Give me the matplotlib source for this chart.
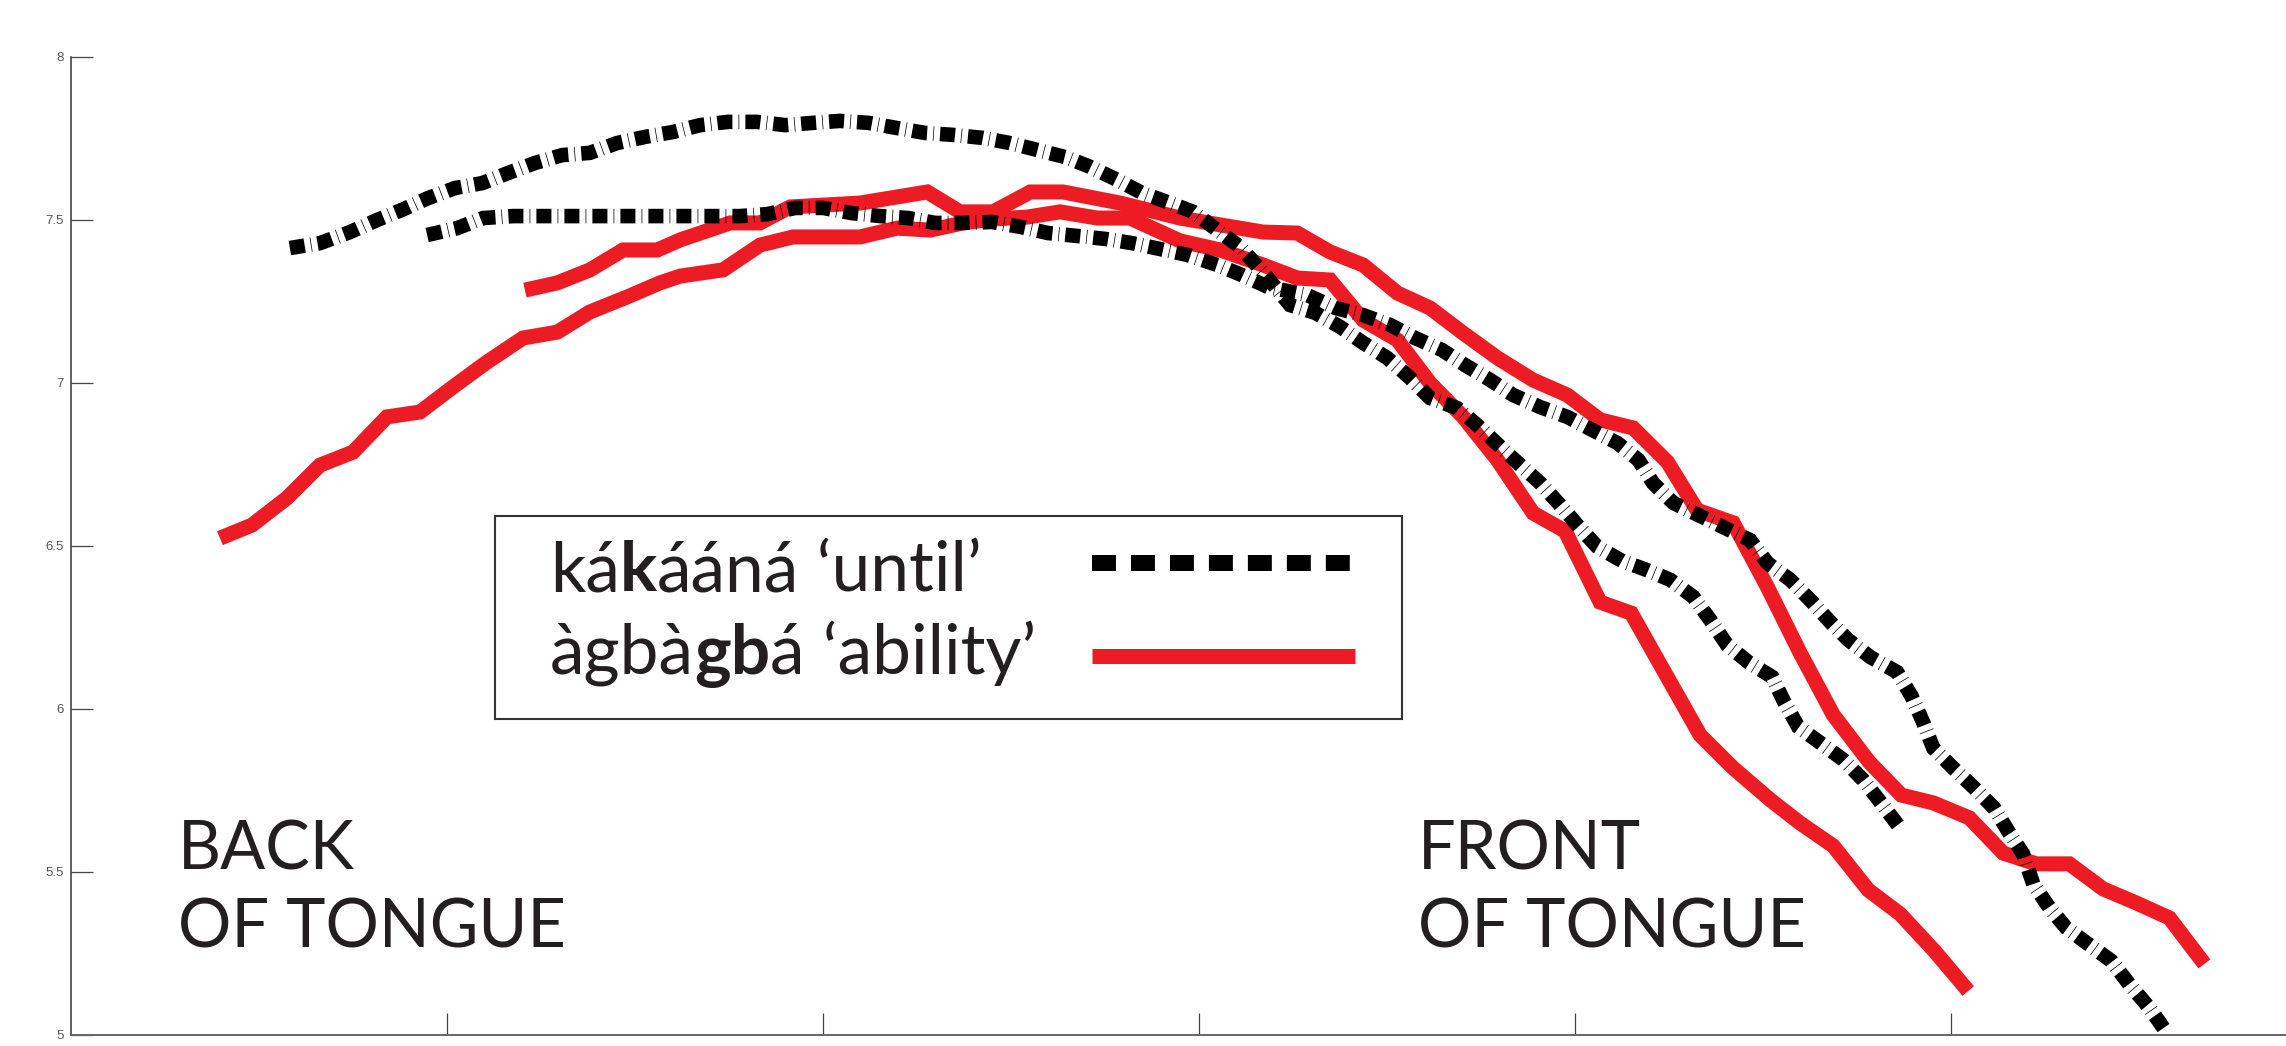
import matplotlib
matplotlib.use("Agg")
import matplotlib.pyplot as plt
from matplotlib.lines import Line2D
from matplotlib.patches import Rectangle

# ---------------- data (tongue contours) ----------------
# kákáánáʼ 'until' – repetition 1 (upper black dotted)
kak1_x = [5.82, 6.62, 7.42, 8.14, 8.80, 9.49, 10.21, 10.93, 11.62, 12.34, 13.06, 13.80, 14.52,
          15.27, 16.01, 16.73, 17.47, 18.24, 18.99, 19.73, 20.45, 21.20, 21.97, 22.71, 23.46,
          24.23, 24.97, 25.69, 26.44, 27.10, 27.82, 28.48, 29.23, 29.84, 30.48, 31.09, 31.76,
          32.42, 33.09, 33.75, 34.36, 35.00, 35.61, 36.14, 36.86, 37.39, 38.01, 38.54, 39.07,
          39.55, 40.08, 40.59, 41.25, 41.91, 42.53, 43.14, 43.59, 44.04, 44.60, 45.24, 45.53,
          45.93, 46.52, 47.13, 47.66, 48.11, 48.64]
kak1_y = [7.414, 7.429, 7.463, 7.500, 7.531, 7.567, 7.598, 7.613, 7.644, 7.675, 7.699, 7.706, 7.736,
          7.755, 7.770, 7.791, 7.801, 7.801, 7.791, 7.798, 7.804, 7.798, 7.782, 7.767, 7.761,
          7.752, 7.736, 7.715, 7.693, 7.663, 7.623, 7.583, 7.552, 7.525, 7.469, 7.417, 7.331,
          7.239, 7.215, 7.172, 7.123, 7.077, 7.015, 6.954, 6.923, 6.871, 6.804, 6.748, 6.693,
          6.632, 6.561, 6.497, 6.454, 6.426, 6.396, 6.344, 6.273, 6.196, 6.144, 6.098, 6.028,
          5.945, 5.896, 5.844, 5.782, 5.715, 5.635]

# kákáánáʼ 'until' – repetition 2 (lower black dotted)
kak2_x = [9.47, 10.27, 10.96, 11.76, 12.74, 14.07, 15.40, 16.20, 16.99, 17.79, 18.51, 19.26, 20.00,
          20.77, 21.52, 22.26, 22.98, 23.72, 24.49, 25.24, 25.98, 26.76, 27.50, 28.22, 28.96,
          29.68, 30.48, 31.14, 31.84, 32.87, 33.62, 34.34, 35.08, 35.74, 36.46, 37.07, 37.74,
          38.35, 39.07, 39.79, 40.45, 41.12, 41.68, 42.07, 42.61, 44.65, 45.11, 45.72, 46.25,
          46.78, 47.26, 47.85, 48.56, 48.94, 49.26, 49.52, 50.05, 50.61, 51.14, 51.54, 51.91,
          52.18, 52.61, 53.06, 53.64, 54.26, 54.73, 55.27, 55.72]
kak2_y = [7.454, 7.475, 7.506, 7.512, 7.512, 7.512, 7.512, 7.512, 7.512, 7.512, 7.518, 7.537, 7.537,
          7.521, 7.512, 7.506, 7.491, 7.491, 7.494, 7.479, 7.460, 7.451, 7.442, 7.429, 7.411,
          7.393, 7.362, 7.331, 7.294, 7.270, 7.230, 7.209, 7.178, 7.138, 7.101, 7.055, 7.009,
          6.963, 6.926, 6.896, 6.856, 6.816, 6.764, 6.693, 6.632, 6.518, 6.448, 6.396, 6.334,
          6.267, 6.212, 6.159, 6.113, 6.040, 5.957, 5.880, 5.819, 5.758, 5.696, 5.620, 5.555,
          5.463, 5.390, 5.328, 5.279, 5.227, 5.156, 5.083, 5.009]

# àgbàgbá 'ability' – repetition 1 (red, starts far back)
agb1_x = [3.96, 4.81, 5.74, 6.62, 7.50, 8.40, 9.28, 10.16, 11.06, 12.02, 12.93, 13.80, 14.79,
          15.66, 16.20, 17.34, 18.32, 19.20, 20.98, 21.97, 22.85, 23.72, 24.52, 25.43, 26.30,
          27.29, 28.16, 29.49, 30.56, 31.70, 32.61, 33.48, 34.36, 35.27, 36.14, 37.02, 37.93,
          38.88, 39.73, 40.66, 41.49, 42.34, 43.32, 44.20, 45.19, 45.98, 46.86, 47.79, 48.64,
          49.55, 50.45]
agb1_y = [6.524, 6.564, 6.647, 6.748, 6.788, 6.896, 6.911, 6.988, 7.064, 7.138, 7.156, 7.218, 7.264,
          7.307, 7.328, 7.347, 7.423, 7.448, 7.448, 7.475, 7.469, 7.491, 7.503, 7.509, 7.525,
          7.506, 7.506, 7.436, 7.408, 7.362, 7.322, 7.316, 7.193, 7.132, 7.000, 6.896, 6.764,
          6.601, 6.546, 6.328, 6.294, 6.120, 5.920, 5.819, 5.721, 5.650, 5.580, 5.445, 5.371,
          5.258, 5.135]

# àgbàgbá 'ability' – repetition 2 (red, reaches furthest front)
agb2_x = [12.07, 12.93, 13.80, 14.68, 15.59, 16.20, 17.53, 18.32, 19.12, 20.98, 22.77, 23.64, 24.52,
          25.51, 26.38, 27.90, 29.49, 30.56, 31.70, 32.61, 33.48, 34.36, 35.27, 36.14, 37.02,
          37.93, 38.88, 39.79, 40.66, 41.54, 42.45, 43.24, 44.20, 45.11, 45.98, 46.86, 47.82,
          48.67, 49.52, 50.48, 51.38, 52.26, 53.14, 54.04, 54.92, 55.80, 56.73]
agb2_y = [7.285, 7.307, 7.347, 7.408, 7.408, 7.439, 7.491, 7.491, 7.540, 7.552, 7.586, 7.525, 7.525,
          7.586, 7.586, 7.552, 7.506, 7.485, 7.463, 7.460, 7.402, 7.362, 7.276, 7.230, 7.153,
          7.077, 7.009, 6.963, 6.887, 6.862, 6.758, 6.610, 6.571, 6.374, 6.172, 5.982, 5.837,
          5.736, 5.712, 5.666, 5.558, 5.525, 5.525, 5.448, 5.405, 5.359, 5.218]

y_ticks = [5, 5.5, 6, 6.5, 7, 7.5, 8]
y_tick_labels = ["5", "5.5", "6", "6.5", "7", "7.5", "8"]
x_ticks = [10, 20, 30, 40, 50]

legend_word1 = [("ká", "normal"), ("k", "bold"), ("ááná", "normal"), (" \u2018until\u2019", "normal")]
legend_word2 = [("àgbà", "normal"), ("gb", "bold"), ("á", "normal"), (" \u2018ability\u2019", "normal")]
label_back = ["BACK", "OF TONGUE"]
label_front = ["FRONT", "OF TONGUE"]

# ---------------- figure ----------------
W, H = 2286, 1046
fig = plt.figure(figsize=(W / 100, H / 100), dpi=100)
fig.patch.set_facecolor("white")
ax = fig.add_axes([71 / W, 11 / H, (W - 71) / W, 978 / H])
ax.set_xlim(0, 58.9)
ax.set_ylim(5, 8)

RED = "#ED1C24"
TXT = "#231F20"
dot_style = (0, (1.03, 0.42, 0.05, 0.42))

for xs, ys in [(agb1_x, agb1_y), (agb2_x, agb2_y)]:
    ax.plot(xs, ys, color=RED, lw=10.8, solid_capstyle="butt", solid_joinstyle="miter",
            zorder=2, clip_on=False)
for xs, ys in [(kak1_x, kak1_y), (kak2_x, kak2_y)]:
    ax.plot(xs, ys, color="black", lw=10.5, linestyle=dot_style, dash_capstyle="butt",
            dash_joinstyle="miter", zorder=3, clip_on=False)

for s in ["top", "right"]:
    ax.spines[s].set_visible(False)
ax.spines["left"].set_bounds(5, 8)
ax.spines["left"].set_color("#444444")
ax.spines["left"].set_linewidth(1.2)
ax.spines["bottom"].set_color("#666666")
ax.spines["bottom"].set_linewidth(1.4)

ax.set_xticks(x_ticks)
ax.set_xticklabels([])
ax.set_yticks(y_ticks)
ax.set_yticklabels(y_tick_labels, fontsize=9.5, color="#555555", family="Liberation Sans")
ax.tick_params(axis="both", direction="in", length=15.5, width=0.9, color="#444444")
ax.tick_params(axis="y", pad=5)

# ---------------- legend (drawn by hand) ----------------
fig.add_artist(Rectangle((495 / W, 327 / H), 907 / W, 203 / H, transform=fig.transFigure,
                         fill=False, ec="#333333", lw=1.5))
fig.add_artist(Line2D([1092 / W, 1353 / W], [483 / H, 483 / H], transform=fig.transFigure,
                      color="black", lw=11.5, linestyle=(0, (1.5, 0.94)), dash_capstyle="butt"))
fig.add_artist(Line2D([1092 / W, 1355 / W], [390 / H, 390 / H], transform=fig.transFigure,
                      color=RED, lw=10.8, solid_capstyle="butt"))

renderer = fig.canvas.get_renderer()


def seg_text(x_px, base_from_top, parts, size):
    x = x_px
    for s, w in parts:
        t = fig.text(x / W, 1 - base_from_top / H, s, fontsize=size, fontweight=w,
                     family="Lato", va="baseline", ha="left", color=TXT)
        x = t.get_window_extent(renderer).x1


seg_text(550, 591, legend_word1, 50)
seg_text(550, 674, legend_word2, 50)

# ---------------- region labels ----------------
for i, line in enumerate(label_back):
    fig.text(178 / W, 1 - (870 + 78 * i) / H, line, fontsize=48, family="Lato",
             va="baseline", ha="left", color=TXT)
for i, line in enumerate(label_front):
    fig.text(1418 / W, 1 - (870 + 78 * i) / H, line, fontsize=48, family="Lato",
             va="baseline", ha="left", color=TXT)

fig.savefig("out.png", dpi=100, facecolor="white")
